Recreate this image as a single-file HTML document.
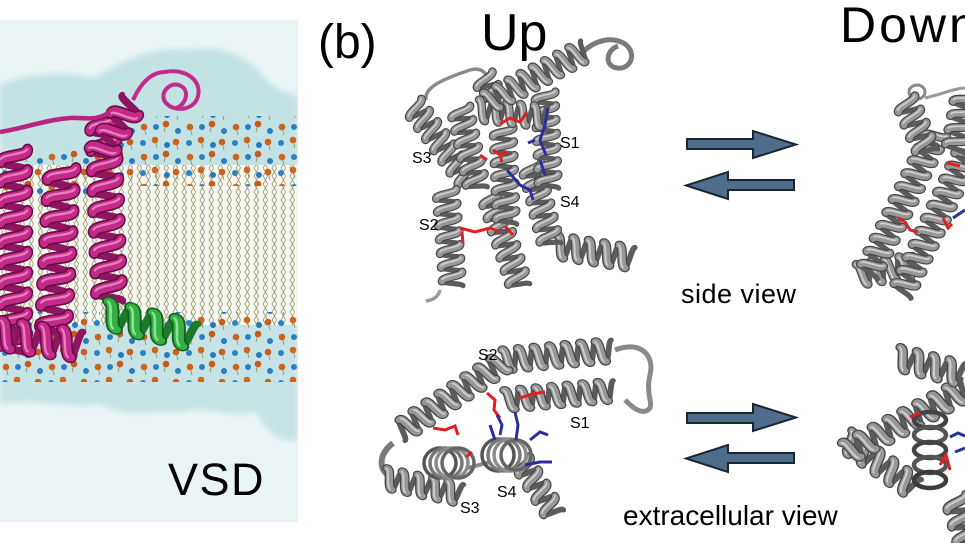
<!DOCTYPE html>
<html><head><meta charset="utf-8"><style>
html,body{margin:0;padding:0;background:#fff;}
svg{display:block}
text{font-family:"Liberation Sans",sans-serif;fill:#000;}
</style></head><body>
<svg width="965" height="543" viewBox="0 0 965 543" xmlns="http://www.w3.org/2000/svg">
<defs>
<path id="F2" d="M0,-9c4,0 3,18 7,18m5,-18c4,0 3,18 7,18"/>
<path id="B2" d="M7,9c2,0 3,-18 5,-18m7,18c2,0 3,-18 5,-18"/>
<path id="F3" d="M0,-9c4,0 3,18 7,18m5,-18c4,0 3,18 7,18m5,-18c4,0 3,18 7,18"/>
<path id="B3" d="M7,9c2,0 3,-18 5,-18m7,18c2,0 3,-18 5,-18m7,18c2,0 3,-18 5,-18"/>
<path id="F4" d="M0,-9c4,0 3,18 7,18m5,-18c4,0 3,18 7,18m5,-18c4,0 3,18 7,18m5,-18c4,0 3,18 7,18"/>
<path id="B4" d="M7,9c2,0 3,-18 5,-18m7,18c2,0 3,-18 5,-18m7,18c2,0 3,-18 5,-18m7,18c2,0 3,-18 5,-18"/>
<path id="F5" d="M0,-9c4,0 3,18 7,18m5,-18c4,0 3,18 7,18m5,-18c4,0 3,18 7,18m5,-18c4,0 3,18 7,18m5,-18c4,0 3,18 7,18"/>
<path id="B5" d="M7,9c2,0 3,-18 5,-18m7,18c2,0 3,-18 5,-18m7,18c2,0 3,-18 5,-18m7,18c2,0 3,-18 5,-18m7,18c2,0 3,-18 5,-18"/>
<path id="F6" d="M0,-9c4,0 3,18 7,18m5,-18c4,0 3,18 7,18m5,-18c4,0 3,18 7,18m5,-18c4,0 3,18 7,18m5,-18c4,0 3,18 7,18m5,-18c4,0 3,18 7,18"/>
<path id="B6" d="M7,9c2,0 3,-18 5,-18m7,18c2,0 3,-18 5,-18m7,18c2,0 3,-18 5,-18m7,18c2,0 3,-18 5,-18m7,18c2,0 3,-18 5,-18m7,18c2,0 3,-18 5,-18"/>
<path id="F7" d="M0,-9c4,0 3,18 7,18m5,-18c4,0 3,18 7,18m5,-18c4,0 3,18 7,18m5,-18c4,0 3,18 7,18m5,-18c4,0 3,18 7,18m5,-18c4,0 3,18 7,18m5,-18c4,0 3,18 7,18"/>
<path id="B7" d="M7,9c2,0 3,-18 5,-18m7,18c2,0 3,-18 5,-18m7,18c2,0 3,-18 5,-18m7,18c2,0 3,-18 5,-18m7,18c2,0 3,-18 5,-18m7,18c2,0 3,-18 5,-18m7,18c2,0 3,-18 5,-18"/>
<path id="F8" d="M0,-9c4,0 3,18 7,18m5,-18c4,0 3,18 7,18m5,-18c4,0 3,18 7,18m5,-18c4,0 3,18 7,18m5,-18c4,0 3,18 7,18m5,-18c4,0 3,18 7,18m5,-18c4,0 3,18 7,18m5,-18c4,0 3,18 7,18"/>
<path id="B8" d="M7,9c2,0 3,-18 5,-18m7,18c2,0 3,-18 5,-18m7,18c2,0 3,-18 5,-18m7,18c2,0 3,-18 5,-18m7,18c2,0 3,-18 5,-18m7,18c2,0 3,-18 5,-18m7,18c2,0 3,-18 5,-18m7,18c2,0 3,-18 5,-18"/>
<path id="F9" d="M0,-9c4,0 3,18 7,18m5,-18c4,0 3,18 7,18m5,-18c4,0 3,18 7,18m5,-18c4,0 3,18 7,18m5,-18c4,0 3,18 7,18m5,-18c4,0 3,18 7,18m5,-18c4,0 3,18 7,18m5,-18c4,0 3,18 7,18m5,-18c4,0 3,18 7,18"/>
<path id="B9" d="M7,9c2,0 3,-18 5,-18m7,18c2,0 3,-18 5,-18m7,18c2,0 3,-18 5,-18m7,18c2,0 3,-18 5,-18m7,18c2,0 3,-18 5,-18m7,18c2,0 3,-18 5,-18m7,18c2,0 3,-18 5,-18m7,18c2,0 3,-18 5,-18m7,18c2,0 3,-18 5,-18"/>
<path id="F10" d="M0,-9c4,0 3,18 7,18m5,-18c4,0 3,18 7,18m5,-18c4,0 3,18 7,18m5,-18c4,0 3,18 7,18m5,-18c4,0 3,18 7,18m5,-18c4,0 3,18 7,18m5,-18c4,0 3,18 7,18m5,-18c4,0 3,18 7,18m5,-18c4,0 3,18 7,18m5,-18c4,0 3,18 7,18"/>
<path id="B10" d="M7,9c2,0 3,-18 5,-18m7,18c2,0 3,-18 5,-18m7,18c2,0 3,-18 5,-18m7,18c2,0 3,-18 5,-18m7,18c2,0 3,-18 5,-18m7,18c2,0 3,-18 5,-18m7,18c2,0 3,-18 5,-18m7,18c2,0 3,-18 5,-18m7,18c2,0 3,-18 5,-18m7,18c2,0 3,-18 5,-18"/>
<path id="F11" d="M0,-9c4,0 3,18 7,18m5,-18c4,0 3,18 7,18m5,-18c4,0 3,18 7,18m5,-18c4,0 3,18 7,18m5,-18c4,0 3,18 7,18m5,-18c4,0 3,18 7,18m5,-18c4,0 3,18 7,18m5,-18c4,0 3,18 7,18m5,-18c4,0 3,18 7,18m5,-18c4,0 3,18 7,18m5,-18c4,0 3,18 7,18"/>
<path id="B11" d="M7,9c2,0 3,-18 5,-18m7,18c2,0 3,-18 5,-18m7,18c2,0 3,-18 5,-18m7,18c2,0 3,-18 5,-18m7,18c2,0 3,-18 5,-18m7,18c2,0 3,-18 5,-18m7,18c2,0 3,-18 5,-18m7,18c2,0 3,-18 5,-18m7,18c2,0 3,-18 5,-18m7,18c2,0 3,-18 5,-18m7,18c2,0 3,-18 5,-18"/>

<g id="h2"><use href="#B2" style="stroke:var(--b,#5c5c5c)" stroke-width="4.5" fill="none" stroke-linecap="round"/><use href="#F2" style="stroke:var(--o,#454545)" stroke-width="7.5" fill="none" stroke-linecap="round"/><use href="#F2" style="stroke:var(--f,#979797)" stroke-width="5.5" fill="none" stroke-linecap="round"/><use href="#F2" x="-1" style="stroke:var(--h,#d0d0d0)" stroke-width="1.4" fill="none"/></g>
<g id="h3"><use href="#B3" style="stroke:var(--b,#5c5c5c)" stroke-width="4.5" fill="none" stroke-linecap="round"/><use href="#F3" style="stroke:var(--o,#454545)" stroke-width="7.5" fill="none" stroke-linecap="round"/><use href="#F3" style="stroke:var(--f,#979797)" stroke-width="5.5" fill="none" stroke-linecap="round"/><use href="#F3" x="-1" style="stroke:var(--h,#d0d0d0)" stroke-width="1.4" fill="none"/></g>
<g id="h4"><use href="#B4" style="stroke:var(--b,#5c5c5c)" stroke-width="4.5" fill="none" stroke-linecap="round"/><use href="#F4" style="stroke:var(--o,#454545)" stroke-width="7.5" fill="none" stroke-linecap="round"/><use href="#F4" style="stroke:var(--f,#979797)" stroke-width="5.5" fill="none" stroke-linecap="round"/><use href="#F4" x="-1" style="stroke:var(--h,#d0d0d0)" stroke-width="1.4" fill="none"/></g>
<g id="h5"><use href="#B5" style="stroke:var(--b,#5c5c5c)" stroke-width="4.5" fill="none" stroke-linecap="round"/><use href="#F5" style="stroke:var(--o,#454545)" stroke-width="7.5" fill="none" stroke-linecap="round"/><use href="#F5" style="stroke:var(--f,#979797)" stroke-width="5.5" fill="none" stroke-linecap="round"/><use href="#F5" x="-1" style="stroke:var(--h,#d0d0d0)" stroke-width="1.4" fill="none"/></g>
<g id="h6"><use href="#B6" style="stroke:var(--b,#5c5c5c)" stroke-width="4.5" fill="none" stroke-linecap="round"/><use href="#F6" style="stroke:var(--o,#454545)" stroke-width="7.5" fill="none" stroke-linecap="round"/><use href="#F6" style="stroke:var(--f,#979797)" stroke-width="5.5" fill="none" stroke-linecap="round"/><use href="#F6" x="-1" style="stroke:var(--h,#d0d0d0)" stroke-width="1.4" fill="none"/></g>
<g id="h7"><use href="#B7" style="stroke:var(--b,#5c5c5c)" stroke-width="4.5" fill="none" stroke-linecap="round"/><use href="#F7" style="stroke:var(--o,#454545)" stroke-width="7.5" fill="none" stroke-linecap="round"/><use href="#F7" style="stroke:var(--f,#979797)" stroke-width="5.5" fill="none" stroke-linecap="round"/><use href="#F7" x="-1" style="stroke:var(--h,#d0d0d0)" stroke-width="1.4" fill="none"/></g>
<g id="h8"><use href="#B8" style="stroke:var(--b,#5c5c5c)" stroke-width="4.5" fill="none" stroke-linecap="round"/><use href="#F8" style="stroke:var(--o,#454545)" stroke-width="7.5" fill="none" stroke-linecap="round"/><use href="#F8" style="stroke:var(--f,#979797)" stroke-width="5.5" fill="none" stroke-linecap="round"/><use href="#F8" x="-1" style="stroke:var(--h,#d0d0d0)" stroke-width="1.4" fill="none"/></g>
<g id="h9"><use href="#B9" style="stroke:var(--b,#5c5c5c)" stroke-width="4.5" fill="none" stroke-linecap="round"/><use href="#F9" style="stroke:var(--o,#454545)" stroke-width="7.5" fill="none" stroke-linecap="round"/><use href="#F9" style="stroke:var(--f,#979797)" stroke-width="5.5" fill="none" stroke-linecap="round"/><use href="#F9" x="-1" style="stroke:var(--h,#d0d0d0)" stroke-width="1.4" fill="none"/></g>
<g id="h10"><use href="#B10" style="stroke:var(--b,#5c5c5c)" stroke-width="4.5" fill="none" stroke-linecap="round"/><use href="#F10" style="stroke:var(--o,#454545)" stroke-width="7.5" fill="none" stroke-linecap="round"/><use href="#F10" style="stroke:var(--f,#979797)" stroke-width="5.5" fill="none" stroke-linecap="round"/><use href="#F10" x="-1" style="stroke:var(--h,#d0d0d0)" stroke-width="1.4" fill="none"/></g>
<g id="h11"><use href="#B11" style="stroke:var(--b,#5c5c5c)" stroke-width="4.5" fill="none" stroke-linecap="round"/><use href="#F11" style="stroke:var(--o,#454545)" stroke-width="7.5" fill="none" stroke-linecap="round"/><use href="#F11" style="stroke:var(--f,#979797)" stroke-width="5.5" fill="none" stroke-linecap="round"/><use href="#F11" x="-1" style="stroke:var(--h,#d0d0d0)" stroke-width="1.4" fill="none"/></g>

<pattern id="lip" width="9" height="24" patternUnits="userSpaceOnUse">
 <path d="M2,0 l2.5,4 -2.5,4 2.5,4 -2.5,4 2.5,4 -2.5,4 M6.5,0 l-2,4 2,4 -2,4 2,4 -2,4 2,4" stroke="#9b9868" stroke-width="0.8" fill="none"/>
</pattern>
<pattern id="dots" width="46" height="30" patternUnits="userSpaceOnUse">
 <path d="M6,7 L8,15 M28,4 L26,12 M17,20 L19,28 M38,22 L40,30" stroke="#8f8c5a" stroke-width="0.8" fill="none"/>
 <circle cx="6" cy="7" r="3.3" fill="#cf621f"/>
 <circle cx="28" cy="4" r="3.3" fill="#c65a1c"/>
 <circle cx="17" cy="20" r="3.3" fill="#d0651f"/>
 <circle cx="38" cy="22" r="3.3" fill="#c96020"/>
 <circle cx="18" cy="7" r="3" fill="#2b7fc2"/>
 <circle cx="40" cy="11" r="3" fill="#2a7bbf"/>
 <circle cx="5" cy="23" r="3" fill="#2d82c4"/>
 <circle cx="29" cy="25" r="3" fill="#2878bb"/>
</pattern>
<filter id="bl" x="-10%" y="-10%" width="120%" height="120%"><feGaussianBlur stdDeviation="3"/></filter>
<clipPath id="lp"><rect x="0" y="20" width="298" height="502"/></clipPath>
</defs>

<!-- LEFT PANEL -->
<g clip-path="url(#lp)">
 <rect x="0" y="20" width="298" height="502" fill="#eaf4f5"/>
 <path d="M0,84 C30,74 60,70 95,78 C120,62 150,46 190,50 C222,44 250,56 268,82 C284,94 298,94 298,98 L298,200 L0,200 Z" fill="#a9d7d9" opacity="0.6" filter="url(#bl)"/>
 <path d="M0,298 L298,298 L298,440 C282,444 266,432 256,412 C230,420 205,404 182,412 C150,410 130,420 100,404 C70,410 40,398 0,404 Z" fill="#a9d7d9" opacity="0.55" filter="url(#bl)"/>
 <rect x="0" y="165" width="298" height="160" fill="#f4f6f1"/>
 <rect x="0" y="165" width="298" height="160" fill="url(#lip)"/>
 <rect x="100" y="116" width="198" height="70" fill="url(#dots)"/>
 <rect x="0" y="150" width="100" height="46" fill="url(#dots)"/>
 <rect x="0" y="312" width="298" height="70" fill="url(#dots)"/>

 <!-- pink protein -->
 <g style="--f:#c42a8a;--b:#8e1560;--o:#6b0c46;--h:#e680bd">
  <use href="#h10" transform="translate(14,150) rotate(90) scale(1.7,1.5)"/>
  <use href="#h8" transform="translate(62,168) rotate(93) scale(1.75,1.55)"/>
  <use href="#h9" transform="translate(103,118) rotate(88) scale(1.7,1.5)"/>
  <use href="#h3" transform="translate(100,154) rotate(-58) scale(1.7,1.4)"/>
  <use href="#h4" transform="translate(0,334) rotate(8) scale(1.7,1.5)"/>
 </g>
 <path d="M0,132 C25,128 45,120 70,118 C85,117 95,122 110,112" stroke="#b82480" stroke-width="4.5" fill="none"/>
 <path d="M133,100 C140,85 150,72 165,72 C185,68 202,80 198,96 C195,110 175,113 166,103 C158,94 170,80 181,86 C190,91 186,105 176,108" stroke="#c42a8a" stroke-width="4" fill="none"/>

 <!-- green helix -->
 <use href="#h4" style="--f:#34b042;--b:#1d7a28;--o:#165e1f;--h:#8ee096" transform="translate(106,314) rotate(14) scale(1.9,1.4)"/>

 <text x="168" y="495" font-size="45" letter-spacing="1.5">VSD</text>
</g>

<!-- LABELS -->
<text x="318" y="58" font-size="48">(b)</text>
<text x="481" y="50" font-size="52">Up</text>
<text x="840" y="42" font-size="50" letter-spacing="3">Down</text>
<text x="681" y="303" font-size="27" letter-spacing="0.5">side view</text>
<text x="623" y="525" font-size="28">extracellular view</text>

<!-- ARROWS -->
<g fill="#4e6d8d" stroke="#1c2633" stroke-width="2" stroke-linejoin="miter">
 <polygon points="687,139 753,139 753,131 796,144.5 753,158 753,149 687,149"/>
 <polygon points="794,180 728,180 728,172 686,185.5 728,199 728,190 794,190"/>
 <polygon points="687,413 753,413 753,404 796,417.5 753,431 753,423 687,423"/>
 <polygon points="794,453 728,453 728,445 686,458.5 728,472 728,463 794,463"/>
</g>

<!-- UP SIDE VIEW -->
<g>
 <path d="M426,100 C424,88 440,80 470,70 C480,67 486,72 489,80" stroke="#8a8a8a" stroke-width="3.5" fill="none"/>
 <path d="M440,290 C438,298 432,300 426,301" stroke="#9a9a9a" stroke-width="3.5" fill="none"/>
 <path d="M583,52 C595,40 612,36 625,44 C638,54 630,70 617,68 C604,66 606,50 618,46" stroke="#7a7a7a" stroke-width="5" fill="none"/>
 <use href="#h7" transform="translate(413,105) rotate(54) scale(1.15)"/>
 <use href="#h2" transform="translate(483,76) rotate(65) scale(1.15)"/>
 <use href="#h7" transform="translate(446,190) rotate(86) scale(1.15)"/>
 <use href="#h7" transform="translate(490,195) rotate(72) scale(1.15)"/>
 <use href="#h6" transform="translate(460,108) rotate(78) scale(1.15)"/>
 <use href="#h7" transform="translate(503,128) rotate(88) scale(1.15)"/>
 <use href="#h5" transform="translate(556,246) rotate(9) scale(1.3,1.2)"/>
 <use href="#h6" transform="translate(531,165) rotate(76) scale(1.15)"/>
 <use href="#h7" transform="translate(545,92) rotate(88) scale(1.15)"/>
 <use href="#h5" transform="translate(478,110) rotate(6) scale(1.15)"/>
 <use href="#h8" transform="translate(488,102) rotate(-28) scale(1.15)"/>
 <path d="M493,150 L500,155 L507,152 M500,155 L502,162 M500,124 L510,118 L520,122 L527,112 M480,155 L487,160 M460,228 L475,232 L490,228 L500,232 M505,226 L513,235 M462,232 L463,243" stroke="#e02020" stroke-width="3" fill="none"/>
 <path d="M548,108 L545,125 L540,140 L546,155 M535,140 L528,143 M540,160 L545,175 M507,170 L520,185 L530,190 L533,200" stroke="#2a2f9a" stroke-width="3" fill="none"/>
</g>
<text x="560" y="148" font-size="16">S1</text>
<text x="412" y="163" font-size="16">S3</text>
<text x="560" y="207" font-size="16">S4</text>
<text x="419" y="230" font-size="16">S2</text>

<!-- UP EXTRACELLULAR VIEW -->
<g>
 <path d="M615,350 C640,340 655,355 650,375 C645,395 655,405 648,410 C640,415 630,405 625,400" stroke="#8a8a8a" stroke-width="5" fill="none"/>
 <path d="M393,443 C378,455 378,470 392,478" stroke="#7a7a7a" stroke-width="6" fill="none"/>
 <path d="M468,468 L490,462" stroke="#888" stroke-width="4" fill="none"/>
 <use href="#h7" transform="translate(503,360) rotate(-5) scale(1.3,1.15)"/>
 <use href="#h8" transform="translate(503,362) rotate(146) scale(1.3,1.15)"/>
 <use href="#h7" transform="translate(505,400) rotate(-5) scale(1.3,1.1)"/>
 <use href="#h5" transform="translate(385,478) rotate(12) scale(1.3,1.1)"/>
 <use href="#h4" transform="translate(522,462) rotate(58) scale(1.3,1.1)"/>
 <g fill="none" stroke-width="3.5">
  <ellipse cx="440" cy="463" rx="16" ry="15" stroke="#555"/>
  <ellipse cx="446" cy="463" rx="16" ry="15" stroke="#777"/>
  <ellipse cx="452" cy="463" rx="16" ry="15" stroke="#8a8a8a"/>
  <ellipse cx="458" cy="463" rx="16" ry="15" stroke="#666"/>
  <ellipse cx="498" cy="455" rx="16" ry="16" stroke="#555"/>
  <ellipse cx="504" cy="455" rx="16" ry="16" stroke="#7a7a7a"/>
  <ellipse cx="510" cy="455" rx="16" ry="16" stroke="#8c8c8c"/>
  <ellipse cx="516" cy="455" rx="15" ry="15" stroke="#666"/>
 </g>
 <path d="M487,393 L495,400 L494,410 L500,418 M520,398 L532,394 L545,392 M433,428 L445,430 L455,426 L458,435 M466,457 L472,452" stroke="#e02020" stroke-width="3" fill="none"/>
 <path d="M497,415 L502,425 L500,435 M515,412 L518,425 L516,440 M530,440 L540,432 L548,435 M525,465 L540,462 L552,462 M490,425 L495,440" stroke="#2a2f9a" stroke-width="3" fill="none"/>
</g>
<text x="478" y="360" font-size="16">S2</text>
<text x="570" y="428" font-size="16">S1</text>
<text x="497" y="497" font-size="16">S4</text>
<text x="460" y="513" font-size="16">S3</text>

<!-- DOWN SIDE VIEW -->
<g>
 <ellipse cx="917" cy="92" rx="8" ry="7" stroke="#888" stroke-width="3" fill="none"/>
 <path d="M925,98 C940,95 955,88 965,88" stroke="#999" stroke-width="3" fill="none"/>
 <use href="#h4" transform="translate(858,275) rotate(-10) scale(1.2)"/>
 <use href="#h11" transform="translate(968,150) rotate(115) scale(1.2)"/>
 <use href="#h11" transform="translate(937,132) rotate(116) scale(1.2)"/>
 <use href="#h4" transform="translate(905,100) rotate(67) scale(1.2)"/>
 <use href="#h4" transform="translate(965,95) rotate(100) scale(1.2)"/>
 <path d="M898,218 L905,222 L910,230 L918,232 M947,163 L960,166 M943,218 L948,228 L952,224" stroke="#e02020" stroke-width="3" fill="none"/>
 <path d="M953,218 L965,210" stroke="#2a2f9a" stroke-width="3" fill="none"/>
</g>

<!-- DOWN EXTRACELLULAR VIEW -->
<g>
 <use href="#h3" transform="translate(955,498) rotate(75) scale(1.4,1.2)"/>
 <use href="#h5" transform="translate(846,440) rotate(35) scale(1.4,1.2)"/>
 <use href="#h8" transform="translate(847,452) rotate(-28) scale(1.4,1.2)"/>
 <use href="#h4" transform="translate(898,358) rotate(14) scale(1.4,1.2)"/>
 <g fill="none" stroke-width="4.5">
  <ellipse cx="930" cy="420" rx="16" ry="8" stroke="#444"/>
  <ellipse cx="930" cy="435" rx="16" ry="8" stroke="#555"/>
  <ellipse cx="930" cy="450" rx="16" ry="8" stroke="#444"/>
  <ellipse cx="930" cy="465" rx="16" ry="8" stroke="#555"/>
  <ellipse cx="930" cy="480" rx="16" ry="8" stroke="#3c3c3c"/>
 </g>
 <path d="M910,417 L920,413 M940,465 L946,455 L950,470" stroke="#e02020" stroke-width="3" fill="none"/>
 <path d="M950,437 L958,433 L965,436 M955,452 L965,448" stroke="#2a2f9a" stroke-width="3" fill="none"/>
</g>
</svg>
</body></html>
